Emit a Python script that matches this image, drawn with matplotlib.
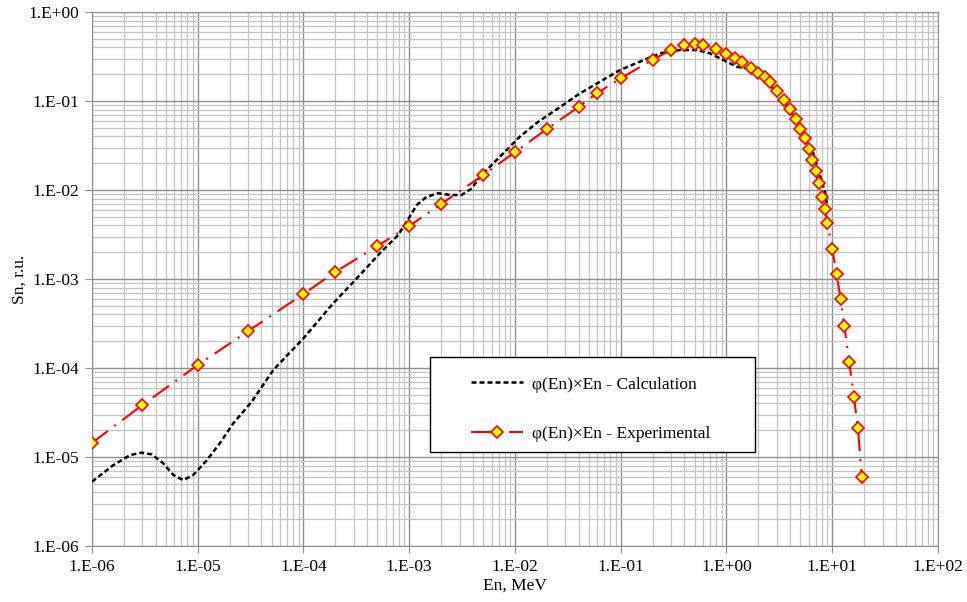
import numpy as np
import matplotlib.pyplot as plt
from matplotlib.ticker import FixedLocator, FuncFormatter, NullFormatter
from matplotlib.patches import Rectangle

plt.rcParams['font.family'] = ['Liberation Serif', 'DejaVu Serif']

# calculation curve, phi(En)*En
calc_en = [1.0e-6, 1.59e-6, 2.29e-6, 2.95e-6, 3.67e-6, 4.72e-6, 5.87e-6, 7.3e-6,
           9.1e-6, 1.22e-5, 1.62e-5, 2.17e-5, 3.24e-5, 5.18e-5, 1.0e-4, 1.91e-4,
           3.42e-4, 5.28e-4, 7.87e-4, 9.46e-4, 1.18e-3, 1.46e-3, 1.88e-3, 2.43e-3,
           3.13e-3, 3.9e-3, 4.67e-3, 6.24e-3, 8.04e-3, 1.11e-2, 1.66e-2, 2.56e-2,
           4.12e-2, 6.37e-2, 9.84e-2, 0.152, 0.235, 0.363, 0.522, 0.697, 0.933,
           1.25, 1.55, 2.07, 3.21, 4.95, 6.62, 8.53, 8.9]
calc_sn = [5.27e-6, 8.1e-6, 1.05e-5, 1.12e-5, 1.07e-5, 8.5e-6, 6.3e-6, 5.5e-6,
           6.3e-6, 9.2e-6, 1.43e-5, 2.39e-5, 4.18e-5, 9.5e-5, 2.16e-4, 5.33e-4,
           1.11e-3, 1.95e-3, 3.12e-3, 4.4e-3, 6.8e-3, 8.4e-3, 9.2e-3, 8.8e-3,
           8.8e-3, 1.04e-2, 1.41e-2, 2.0e-2, 2.69e-2, 3.97e-2, 5.85e-2, 8.28e-2,
           0.122, 0.165, 0.223, 0.277, 0.344, 0.374, 0.374, 0.344, 0.289,
           0.243, 0.233, 0.205, 0.112, 0.0514, 0.0258, 9.6e-3, 7.0e-3]

# experimental points
exp_en = [1e-6, 3e-6, 1e-5, 3e-5, 1e-4, 2e-4, 5e-4, 1e-3, 2e-3, 5e-3, 1e-2, 2e-2,
          4e-2, 6e-2, 0.1, 0.2, 0.3, 0.4, 0.5, 0.6, 0.8, 1.0, 1.2, 1.4, 1.7, 2.0,
          2.3, 2.6, 3.0, 3.5, 4.0, 4.5, 5.0, 5.5, 6.0, 6.5, 7.0, 7.5, 8.0, 8.5,
          9.0, 10.0, 11.0, 12.0, 13.0, 14.5, 16.0, 17.5, 19.0]
exp_sn = [1.44e-5, 3.84e-5, 1.08e-4, 2.6e-4, 6.8e-4, 1.2e-3, 2.35e-3, 3.94e-3,
          6.96e-3, 1.47e-2, 2.67e-2, 4.84e-2, 8.6e-2, 0.123, 0.18, 0.291, 0.374,
          0.43, 0.44, 0.43, 0.387, 0.34, 0.307, 0.274, 0.233, 0.206, 0.185, 0.165,
          0.13, 0.103, 0.081, 0.0636, 0.049, 0.0384, 0.0286, 0.0216, 0.0163,
          0.0119, 0.0084, 0.0061, 0.0043, 0.0022, 1.13e-3, 5.9e-4, 2.97e-4,
          1.17e-4, 4.76e-5, 2.12e-5, 6.0e-6]

x_decades = list(range(-6, 3))
y_decades = list(range(-6, 1))

fig = plt.figure(figsize=(9.67, 6.02), dpi=100)
ax = fig.add_axes([0.0951, 0.093, 0.8749, 0.887])

ax.set_xscale('log')
ax.set_yscale('log')
ax.set_xlim(1e-6, 1e2)
ax.set_ylim(1e-6, 1e0)

ax.plot(calc_en, calc_sn, color='black', lw=1.8, dashes=(2.0, 1.2),
        label='\u03c6(En)\u00d7En - Calculation', zorder=3)
ax.plot(exp_en, exp_sn, color='red', lw=1.5, dashes=(9.6, 3.8, 1.0, 3.8),
        marker='D', ms=6.3, mfc='#FFFF00', mec='red', mew=1.2,
        label='\u03c6(En)\u00d7En - Experimental', zorder=3)

fmt = FuncFormatter(lambda v, p: '1.E%+03d' % int(round(np.log10(v))))
for axis, dec in ((ax.xaxis, x_decades), (ax.yaxis, y_decades)):
    major = [10.0 ** d for d in dec]
    minor = [k * 10.0 ** d for d in dec[:-1] for k in range(2, 10)]
    axis.set_major_locator(FixedLocator(major))
    axis.set_minor_locator(FixedLocator(minor))
    axis.set_major_formatter(fmt)
    axis.set_minor_formatter(NullFormatter())

ax.grid(which='major', color='#8f8f8f', lw=1.0)
ax.grid(which='minor', color='#c4c4c4', lw=0.9)
ax.set_axisbelow(True)
for s in ax.spines.values():
    s.set_color('#8f8f8f')
ax.tick_params(which='major', length=5, color='#8f8f8f', labelsize=12.5, pad=4)
ax.tick_params(which='minor', length=0)

ax.set_xlabel('En, MeV', fontsize=12.5, labelpad=2)
ax.set_ylabel('Sn, r.u.', fontsize=12.5, labelpad=1)

# legend box
ax.add_patch(Rectangle((0.3995, 0.176), 0.384, 0.178, transform=ax.transAxes,
                       facecolor='white', edgecolor='black', lw=1.0, zorder=4))
leg = ax.legend(loc='center left', bbox_to_anchor=(0.448, 0.2566), frameon=False,
                fontsize=12.5, handlelength=3.0, handletextpad=0.5,
                labelspacing=1.9, borderpad=0, borderaxespad=0)
leg.set_zorder(5)

fig.savefig('out.png', dpi=100)
